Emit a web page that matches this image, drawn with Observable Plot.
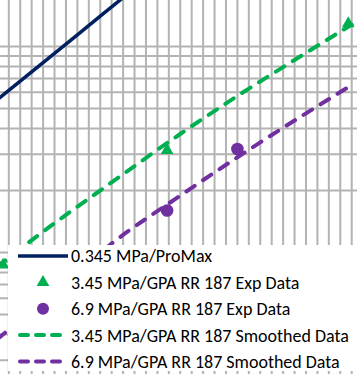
<!DOCTYPE html>
<html><head><meta charset="utf-8">
<script src="https://cdn.jsdelivr.net/npm/d3@7"></script>
<script src="https://cdn.jsdelivr.net/npm/@observablehq/plot@0.6"></script>
<style>
html,body{margin:0;padding:0;background:#fff;overflow:hidden}
#wrap{position:relative;width:357px;height:374px;overflow:hidden}
#wrap svg{position:absolute;left:0;top:0}
</style></head><body><div id="wrap"></div>
<script>
// ---- data ----
const xGrid = [0,1,2,3,4,5,6,7,8,9,10,11,12,13,14,15,16,17,18,19,20,21,22,23,24,25,26,27,28,29,30];
const yGrid = [0.3,0.4,0.5,0.6,0.7,0.8,0.9,1,2,3,4,5,6,7,8,9,10];

const seriesNames = [
  "0.345 MPa/ProMax",
  "3.45 MPa/GPA RR 187 Exp Data",
  "6.9 MPa/GPA RR 187 Exp Data",
  "3.45 MPa/GPA RR 187 Smoothed Data",
  "6.9 MPa/GPA RR 187 Smoothed Data"
];
const seriesColors = ["#002060", "#00B050", "#7030A0", "#00B050", "#7030A0"];

const proMaxX = [-2, 0, 2, 4, 6, 8, 10, 12];
const proMaxY = [4.97, 6.12, 7.53, 9.27, 11.40, 14.04, 17.27, 21.26];

const exp345X = [-0.5, 13.85, 29.7];
const exp345Y = [0.87, 3.13, 12.93];

const exp69X = [13.85, 20.0];
const exp69Y = [1.60, 3.18];

const smooth345X = [-1, 3, 9, 15, 20, 25, 30];
const smooth345Y = [0.855, 1.263, 2.19, 3.76, 5.75, 8.60, 12.77];

const smooth69X = [-1, 4, 9, 15, 20, 25, 30];
const smooth69Y = [0.380, 0.647, 1.106, 1.887, 2.90, 4.37, 6.50];

// ---- build tables ----
const zip = (xs, ys) => xs.map((x, i) => ({x, y: ys[i]}));
const proMax = zip(proMaxX, proMaxY);
const exp345 = zip(exp345X, exp345Y);
const exp69 = zip(exp69X, exp69Y);
const smooth345 = zip(smooth345X, smooth345Y);
const smooth69 = zip(smooth69X, smooth69Y);

const W = 357, H = 374;
const gridColor = "#b3b3b3";

const chart = Plot.plot({
  width: W, height: H, margin: 0,
  style: {background: "#fff", overflow: "hidden"},
  x: {domain: [-0.726, 30.507], axis: null},
  y: {type: "log", domain: [0.2557, 16.72], axis: null},
  marks: [
    Plot.ruleX(xGrid, {x: d => d, stroke: gridColor, strokeWidth: 2}),
    Plot.ruleY(yGrid, {y: d => d, stroke: gridColor, strokeWidth: 2}),
    Plot.line(proMax, {x: "x", y: "y", stroke: seriesColors[0], strokeWidth: 3.5, clip: true}),
    Plot.line(smooth345, {x: "x", y: "y", stroke: seriesColors[3], strokeWidth: 4, strokeDasharray: "10,10", strokeLinecap: "round", curve: "monotone-x", clip: true}),
    Plot.line(smooth69, {x: "x", y: "y", stroke: seriesColors[4], strokeWidth: 4, strokeDasharray: "10,10", strokeLinecap: "round", curve: "monotone-x", clip: true}),
    Plot.dot(exp345, {x: "x", y: "y", symbol: "triangle", r: 4.7, fill: seriesColors[1], clip: true}),
    Plot.dot(exp69, {x: "x", y: "y", symbol: "circle", r: 6.3, fill: seriesColors[2], clip: true})
  ]
});
const wrap = document.getElementById("wrap");
wrap.appendChild(chart);

// ---- legend overlay ----
const fontFamily = "Carlito, Calibri, Lato, sans-serif";
const ctx = document.createElement("canvas").getContext("2d");
ctx.font = `100px ${fontFamily}`;
const fs = 100 * 278 / ctx.measureText(seriesNames[3]).width;

const leg = d3.select(wrap).append("svg").attr("width", W).attr("height", H);
leg.append("rect").attr("x", 8).attr("y", 245).attr("width", 360).attr("height", 126).attr("fill", "#fff");
const kinds = ["solid", "triangle", "circle", "dash", "dash"];
seriesNames.forEach((name, i) => {
  const cy = 256 + i * 26.35;
  const c = seriesColors[i];
  const k = kinds[i];
  if (k === "solid") {
    leg.append("line").attr("x1", 18).attr("x2", 68).attr("y1", cy).attr("y2", cy)
      .attr("stroke", c).attr("stroke-width", 3.5);
  } else if (k === "dash") {
    leg.append("line").attr("x1", 20).attr("x2", 68).attr("y1", cy).attr("y2", cy)
      .attr("stroke", c).attr("stroke-width", 4).attr("stroke-dasharray", "8,8").attr("stroke-linecap", "round");
  } else if (k === "triangle") {
    leg.append("path").attr("d", d3.symbol(d3.symbolTriangle, 4.7 * 4.7 * Math.PI)())
      .attr("transform", `translate(43,${cy})`).attr("fill", c);
  } else {
    leg.append("circle").attr("cx", 43).attr("cy", cy).attr("r", 6).attr("fill", c);
  }
  leg.append("text").attr("x", 71).attr("y", cy + fs * 0.36)
    .attr("font-family", fontFamily).attr("font-size", fs).attr("fill", "#000")
    .text(name);
});
</script></body></html>
